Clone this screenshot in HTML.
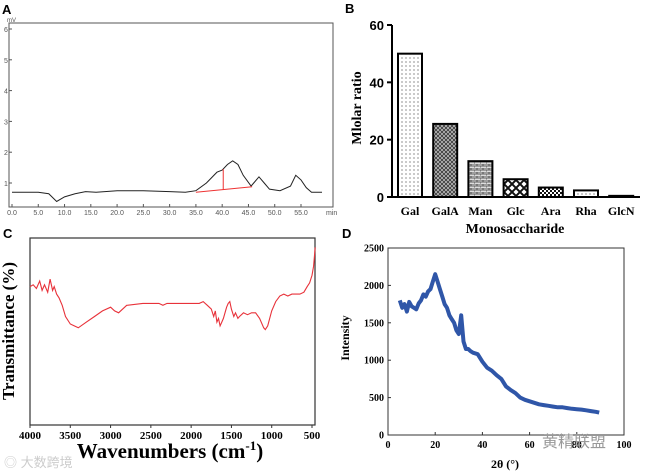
<!DOCTYPE html>
<html><head><meta charset="utf-8"><style>
body{margin:0;background:#fff;}
svg{display:block;font-family:"Liberation Serif","Noto Serif CJK SC",serif;}
.s{font-family:"Liberation Sans",sans-serif;}
</style></head><body>
<svg id="fig" width="650" height="473" viewBox="0 0 650 473">
<defs>
<pattern id="pDots" width="4" height="4" patternUnits="userSpaceOnUse"><rect width="4" height="4" fill="#fff"/><circle cx="2" cy="2" r="0.6" fill="#444"/></pattern>
<pattern id="pDark" width="4" height="4" patternUnits="userSpaceOnUse"><rect width="4" height="4" fill="#333"/><path d="M0 0L4 4M4 0L0 4" stroke="#bbb" stroke-width="0.8"/></pattern>
<pattern id="pBrick" width="6" height="4" patternUnits="userSpaceOnUse"><rect width="6" height="4" fill="#ddd"/><path d="M0 0H6M0 2H6M3 0V2M0 2V4" stroke="#333" stroke-width="0.7"/></pattern>
<pattern id="pCheck" width="8" height="8" patternUnits="userSpaceOnUse"><rect width="8" height="8" fill="#fff"/><path d="M0 0L8 8M8 0L0 8" stroke="#111" stroke-width="2"/></pattern>
<pattern id="pCheck2" width="4" height="4" patternUnits="userSpaceOnUse"><rect width="4" height="4" fill="#fff"/><rect width="2" height="2" fill="#111"/><rect x="2" y="2" width="2" height="2" fill="#111"/></pattern>
</defs>
<g id="A"></g>
<g id="B"></g>
<g id="C"></g>
<g id="D"></g>
<text x="4" y="467" font-size="13" fill="#ccc" class="s">◎ 大数跨境</text>
<text x="542" y="447" font-size="16" fill="#999" class="s">黄精联盟</text>
</svg>
<script>
// Panel A data
const aTime=[0,5,7,8.5,10,12,14,16,20,25,30,33,35,37,39,40,41,42,43,44,45.5,46,47,48,49,51,53,54,55,56,57,59];
const aMv=[0.7,0.7,0.65,0.4,0.55,0.65,0.72,0.7,0.75,0.75,0.72,0.7,0.75,1.0,1.35,1.42,1.6,1.72,1.6,1.25,0.9,1.0,1.2,1.0,0.8,0.75,0.9,1.25,1.1,0.85,0.7,0.7];
const aXTicks=[0,5,10,15,20,25,30,35,40,45,50,55];
const aYTicks=[1,2,3,4,5,6];
// Panel B data
const bCats=["Gal","GalA","Man","Glc","Ara","Rha","GlcN"];
const bVals=[50,25.5,12.5,6.2,3.3,2.3,0.4];
const bFills=["url(#pDots)","url(#pDark)","url(#pBrick)","url(#pCheck)","url(#pCheck2)","url(#pDots)","#fff"];
const bTicks=[0,20,40,60];
// Panel C data
const cWave=[4000,3960,3920,3880,3850,3820,3780,3750,3720,3700,3670,3640,3600,3560,3500,3450,3400,3300,3200,3100,3000,2950,2900,2800,2600,2500,2400,2350,2300,2100,2000,1900,1850,1800,1750,1720,1700,1680,1660,1640,1620,1600,1580,1560,1540,1520,1500,1470,1450,1420,1400,1350,1300,1250,1200,1150,1100,1080,1050,1000,950,900,850,800,750,700,650,600,560,530,500,480,460];
const cT=[74,75,73,77,72,75,71,78,72,74,70,68,64,58,54,53,52,55,58,61,63,61,60,64,65,65,65,64,65,65,65,65,66,64,62,58,61,55,57,53,55,57,60,63,65,66,62,58,60,57,58,60,59,60,60,57,52,51,53,61,66,69,70,69,70,70,70,71,74,76,80,85,95];
const cXTicks=[4000,3500,3000,2500,2000,1500,1000,500];
// Panel D data
const dAng=[5,6,7,8,9,10,11,12,13,14,15,16,17,18,19,20,21,22,23,24,25,26,27,28,29,30,31,32,33,34,35,36,38,40,42,44,46,48,50,52,54,56,58,60,62,64,66,68,70,72,74,76,78,80,82,84,86,88,89.5];
const dInt=[1800,1700,1750,1650,1780,1720,1700,1680,1760,1800,1880,1850,1920,1950,2050,2150,2050,1950,1850,1750,1700,1600,1550,1500,1400,1350,1600,1250,1150,1150,1120,1100,1080,980,900,860,800,750,650,600,560,500,470,450,430,410,400,390,380,370,370,360,350,345,340,330,320,310,300];
const dXTicks=[0,20,40,60,80,100];
const dYTicks=[0,500,1000,1500,2000,2500];

const NS="http://www.w3.org/2000/svg";
function mk(p,tag,at,txt){const e=document.createElementNS(NS,tag);for(const k in at)e.setAttribute(k,at[k]);if(txt!==undefined)e.textContent=txt;p.appendChild(e);return e;}
function lin(d0,d1,r0,r1){return v=>r0+(v-d0)/(d1-d0)*(r1-r0);}

// ---- A
(function(){
const g=document.getElementById('A');
const x=lin(0,55,12,301), y=lin(1,6,183,29);
const t=mk(g,'text',{x:2,y:14,'font-size':13,'font-weight':'bold',class:'s'},'A');


const box=mk(g,'rect',{x:9,y:23,width:324,height:184,fill:'none',stroke:'#555','stroke-width':1});


mk(g,'text',{x:7,y:22,'font-size':6,fill:'#555',class:'s'},'mV');
aYTicks.forEach(v=>{const tk=mk(g,'text',{x:4,y:y(v)+3,'font-size':7,fill:'#555',class:'s'},v);


mk(g,'line',{x1:9,x2:12,y1:y(v),y2:y(v),stroke:'#555'});});
aXTicks.forEach(v=>{const tk=mk(g,'text',{x:x(v),y:215,'font-size':7,fill:'#555','text-anchor':'middle',class:'s'},v.toFixed(1));


mk(g,'line',{x1:x(v),x2:x(v),y1:207,y2:204,stroke:'#555'});});
mk(g,'text',{x:326,y:215,'font-size':7,fill:'#555',class:'s'},'min');
const ln=mk(g,'path',{d:aTime.map((t,i)=>(i?'L':'M')+x(t)+' '+y(aMv[i])).join(''),fill:'none',stroke:'#222','stroke-width':1});


const bl=mk(g,'path',{d:`M${x(35)} ${y(0.7)}L${x(45.7)} ${y(0.88)}M${x(40.2)} ${y(0.77)}L${x(40.2)} ${y(1.45)}`,stroke:'#e33',fill:'none','stroke-width':1});


})();

// ---- B
(function(){
const g=document.getElementById('B');
const y=lin(0,60,197,25);
const t=mk(g,'text',{x:345,y:13,'font-size':13,'font-weight':'bold',class:'s'},'B');


mk(g,'path',{d:'M392 25V197H640',stroke:'#000','stroke-width':2,fill:'none'});
bTicks.forEach(v=>{mk(g,'line',{x1:387,x2:392,y1:y(v),y2:y(v),stroke:'#000','stroke-width':2});
const tk=mk(g,'text',{x:384,y:y(v)+5,'font-size':13,'font-weight':'bold','text-anchor':'end',class:'s'},v);

});
bCats.forEach((c,i)=>{const cx=410+i*35.2;
const r=mk(g,'rect',{x:cx-12,y:y(bVals[i]),width:24,height:197-y(bVals[i]),fill:bFills[i],stroke:'#000','stroke-width':2});


const tk=mk(g,'text',{x:cx,y:215,'font-size':12,'font-weight':'bold','text-anchor':'middle'},c);

});
const xl=mk(g,'text',{x:515,y:233,'font-size':14,'font-weight':'bold','text-anchor':'middle'},'Monosaccharide');


const yl=mk(g,'text',{x:0,y:0,'font-size':14,'font-weight':'bold','text-anchor':'middle',transform:'translate(361,108) rotate(-90)'},'Mlolar ratio');


})();

// ---- C
(function(){
const g=document.getElementById('C');
const x=lin(4000,500,30,312), y=lin(0,100,425,238);
const t=mk(g,'text',{x:3,y:238,'font-size':13,'font-weight':'bold',class:'s'},'C');


mk(g,'rect',{x:30,y:238,width:285,height:187,fill:'none',stroke:'#333','stroke-width':1.2});
cXTicks.forEach(v=>{mk(g,'line',{x1:x(v),x2:x(v),y1:425,y2:428,stroke:'#333'});
const tk=mk(g,'text',{x:x(v),y:439,'font-size':11,'font-weight':'bold','text-anchor':'middle'},v);

});
const ln=mk(g,'path',{d:cWave.map((w,i)=>(i?'L':'M')+x(w).toFixed(1)+' '+y(cT[i]).toFixed(1)).join(''),fill:'none',stroke:'#e8323a','stroke-width':1.1});


const xl=mk(g,'text',{x:170,y:458,'font-size':21,'font-weight':'bold','text-anchor':'middle'});
xl.innerHTML='Wavenumbers (cm<tspan font-size="13" dy="-8">-1</tspan><tspan dy="8">)</tspan>';


const yl=mk(g,'text',{x:0,y:0,'font-size':17,'font-weight':'bold','text-anchor':'middle',transform:'translate(14,331) rotate(-90)'},'Transmittance (%)');


})();

// ---- D
(function(){
const g=document.getElementById('D');
const x=lin(0,100,388,624), y=lin(0,2500,435,248);
const t=mk(g,'text',{x:342,y:238,'font-size':13,'font-weight':'bold',class:'s'},'D');


mk(g,'rect',{x:388,y:248,width:236,height:187,fill:'none',stroke:'#333','stroke-width':1});
dYTicks.forEach(v=>{mk(g,'line',{x1:388,x2:391,y1:y(v),y2:y(v),stroke:'#333'});
const tk=mk(g,'text',{x:384,y:y(v)+3.5,'font-size':10,'font-weight':'bold','text-anchor':'end'},v);

});
dXTicks.forEach(v=>{mk(g,'line',{x1:x(v),x2:x(v),y1:435,y2:432,stroke:'#333'});
const tk=mk(g,'text',{x:x(v),y:448,'font-size':10,'font-weight':'bold','text-anchor':'middle'},v);

});
const ln=mk(g,'path',{d:dAng.map((a,i)=>(i?'L':'M')+x(a).toFixed(1)+' '+y(dInt[i]).toFixed(1)).join(''),fill:'none',stroke:'#2f56a8','stroke-width':4,'stroke-linejoin':'round'});


const xl=mk(g,'text',{x:505,y:468,'font-size':12,'font-weight':'bold','text-anchor':'middle'},'2θ (°)');


const yl=mk(g,'text',{x:0,y:0,'font-size':12,'font-weight':'bold','text-anchor':'middle',transform:'translate(349,338) rotate(-90)'},'Intensity');


})();
</script>
</body></html>
